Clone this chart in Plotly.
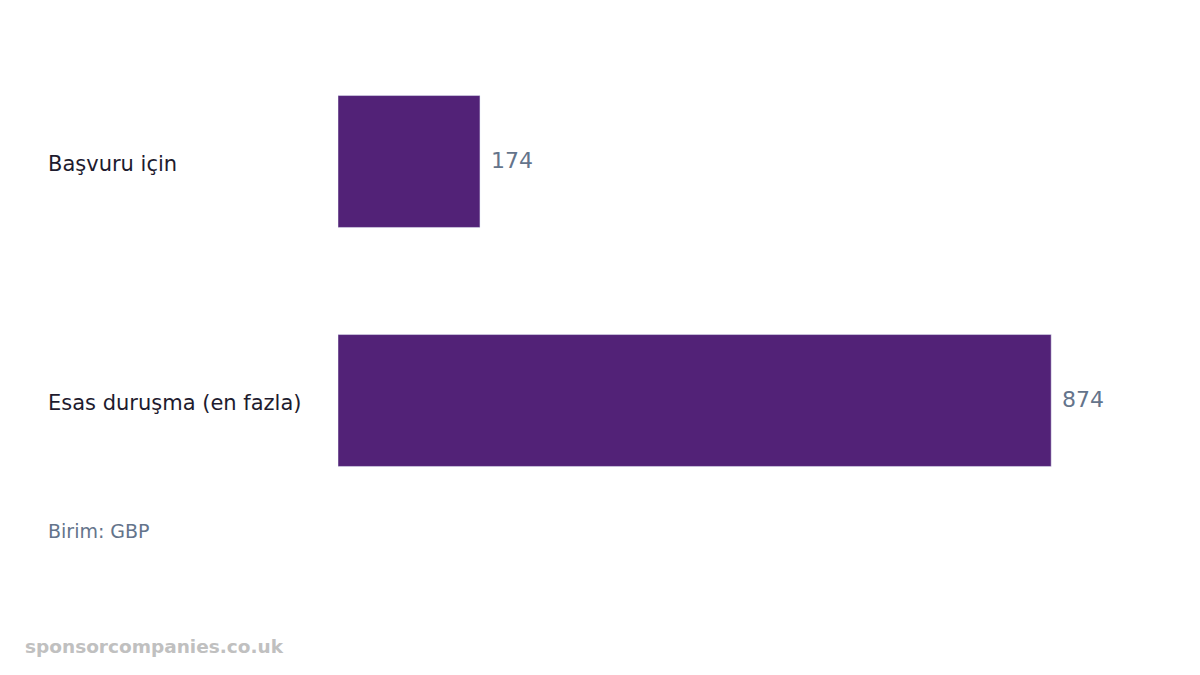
import plotly.graph_objects as go

categories = ["Başvuru için", "Esas duruşma (en fazla)"]
values = [174, 874]

fig = go.Figure(go.Bar(
    x=values, y=categories, orientation="h",
    marker=dict(color="#522277"), width=0.552,
))
W, L, OFF = 816, 330, 10
for c, v in zip(categories, values):
    fig.add_annotation(text=c, xref="paper", yref="y", x=(48 - OFF - L) / W, y=c,
                       xanchor="left", showarrow=False, yshift=-2,
                       font=dict(size=21, color="#1e1b2e", family="DejaVu Sans"))
    fig.add_annotation(text=str(v), xref="x", yref="y", x=v, y=c, xshift=9, yshift=1,
                       xanchor="left", showarrow=False,
                       font=dict(size=22, color="#64748b", family="DejaVu Sans"))
fig.add_annotation(text="Birim: GBP", xref="paper", yref="paper", x=(48 - OFF - L) / W,
                   y=-(531 - 520) / 478, xanchor="left", yanchor="middle", showarrow=False,
                   font=dict(size=19, color="#64748b", family="DejaVu Sans"))
fig.add_annotation(text="<b>sponsorcompanies.co.uk</b>", xref="paper", yref="paper",
                   x=(25 - OFF - L) / W, y=-(646 - 520) / 478, xanchor="left", yanchor="middle",
                   showarrow=False, font=dict(size=18.5, color="#c0c0c0", family="DejaVu Sans"))
fig.update_layout(
    width=1200, height=675, plot_bgcolor="white", paper_bgcolor="white",
    margin=dict(l=L, r=1200 - L - W, t=34, b=163),
    xaxis=dict(range=[0, 1000], visible=False),
    yaxis=dict(autorange="reversed", showticklabels=False, showgrid=False, zeroline=False),
    showlegend=False,
)
fig.write_html("out.html")
